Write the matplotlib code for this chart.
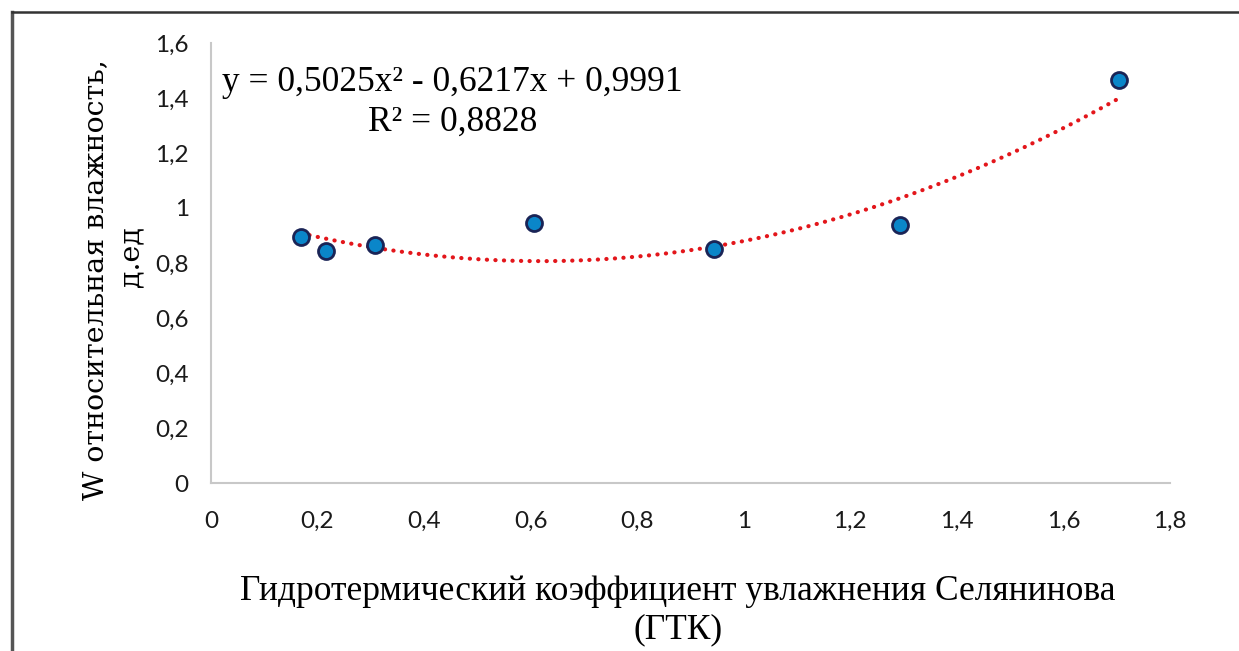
import numpy as np
import matplotlib
matplotlib.use("Agg")
import matplotlib.pyplot as plt
from matplotlib.lines import Line2D

# Data
gtk = [0.169, 0.216, 0.308, 0.606, 0.944, 1.293, 1.704]
w_rel = [0.895, 0.844, 0.865, 0.945, 0.851, 0.938, 1.465]

# Displayed trendline coefficients (y = a x^2 + b x + c)
coef_a, coef_b, coef_c = 0.5025, -0.6217, 0.9991
eq_text = "y = 0,5025x² - 0,6217x + 0,9991"
r2_text = "R² = 0,8828"

xticks = [0, 0.2, 0.4, 0.6, 0.8, 1.0, 1.2, 1.4, 1.6, 1.8]
xtick_labels = ["0", "0,2", "0,4", "0,6", "0,8", "1", "1,2", "1,4", "1,6", "1,8"]
yticks = [0, 0.2, 0.4, 0.6, 0.8, 1.0, 1.2, 1.4, 1.6]
ytick_labels = ["0", "0,2", "0,4", "0,6", "0,8", "1", "1,2", "1,4", "1,6"]

fig = plt.figure(figsize=(12.39, 6.51), dpi=100)
ax = fig.add_axes([211/1239, 1-483/651, (1170-211)/1239, (483-43)/651])

xs = np.linspace(min(gtk), max(gtk), 200)
ys = coef_a*xs**2 + coef_b*xs + coef_c
ax.plot(xs, ys, color="#e3161b", lw=3.0, linestyle=(0, (0.05, 2.0)),
        dash_capstyle="round", zorder=2)
ax.plot(gtk, w_rel, linestyle="none", marker="o", markersize=11.5,
        markerfacecolor="#0a86c9", markeredgecolor="#1a2456",
        markeredgewidth=2.0, zorder=3)

ax.set_xlim(0, 1.8)
ax.set_ylim(0, 1.6)
ax.set_xticks(xticks)
ax.set_xticklabels(xtick_labels)
ax.set_yticks(yticks)
ax.set_yticklabels(ytick_labels)
for lab in ax.get_xticklabels() + ax.get_yticklabels():
    lab.set_fontfamily("Lato")
    lab.set_fontsize(17.5)
    lab.set_color("#1a1a1a")
ax.tick_params(length=0, pad=16)
ax.tick_params(axis="x", pad=20)
for s in ["top", "right"]:
    ax.spines[s].set_visible(False)
for s in ["left", "bottom"]:
    ax.spines[s].set_color("#c8c8c8")
    ax.spines[s].set_linewidth(1.5)

ax.text(0.0115, 0.91, eq_text, transform=ax.transAxes, fontsize=25.5,
        family="Liberation Serif", ha="left", va="center")
ax.text(0.2525, 0.82, r2_text, transform=ax.transAxes, fontsize=25.5,
        family="Liberation Serif", ha="center", va="center")

fig.text(96/1239, 1-280/651, "W относительная влажность,", rotation=90,
         fontsize=20.5, family="DejaVu Serif", ha="center", va="center")
fig.text(131/1239, 1-257/651, "д.ед", rotation=90,
         fontsize=20.5, family="DejaVu Serif", ha="center", va="center")
fig.text(678/1239, 1-592/651, "Гидротермический коэффициент увлажнения Селянинова",
         fontsize=25.5, family="Liberation Serif", ha="center", va="center")
fig.text(678/1239, 1-630/651, "(ГТК)",
         fontsize=25.5, family="Liberation Serif", ha="center", va="center")

# frame (left and top lines)
fig.add_artist(Line2D([12/1239, 12/1239], [0, 1-12/651], color="#555555", lw=2.5,
                      transform=fig.transFigure))
fig.add_artist(Line2D([12/1239, 1], [1-12/651, 1-12/651], color="#333333", lw=1.8,
                      transform=fig.transFigure))

fig.savefig("out.png", dpi=100)
